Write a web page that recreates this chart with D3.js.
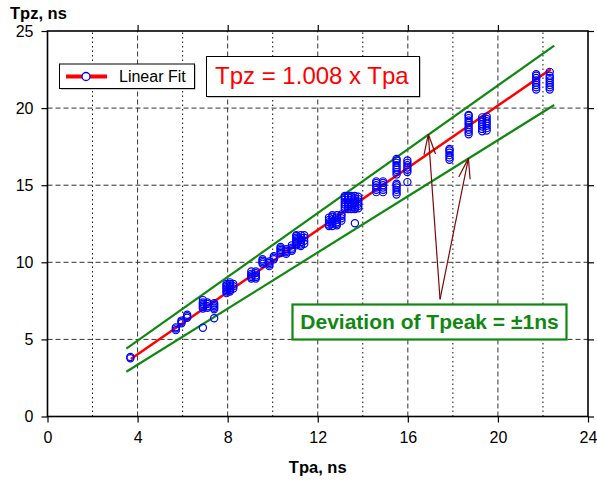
<!DOCTYPE html>
<html>
<head>
<meta charset="utf-8">
<script src="https://cdn.jsdelivr.net/npm/d3@7/dist/d3.min.js"></script>
<style>
  html, body { margin: 0; padding: 0; background: #fff; }
  svg { display: block; font-family: "Liberation Sans", Arial, sans-serif; }
</style>
</head>
<body>
<svg id="chart" width="597" height="482"></svg>
<script>
// Axis ticks
const xTicks = [0, 4, 8, 12, 16, 20, 24];
const xMinorTicks = [2, 6, 10, 14, 18, 22];
const yTicks = [0, 5, 10, 15, 20, 25];

// Measured peak times: each Tpa value with the Tpz readings taken at it (ns)
const groupTpa = [3.68, 5.7, 5.95, 6.2, 6.9, 7.1, 7.4, 7.95, 8.1, 8.25,
  9.05, 9.25, 9.55, 9.85, 10.05, 10.35, 10.6, 10.85, 11.05, 11.25, 11.4,
  12.5, 12.65, 12.85, 13.05, 13.2, 13.35, 13.5, 13.65, 13.8,
  14.6, 14.9, 15.5, 15.98, 17.85, 18.7, 19.3, 19.5, 21.7, 22.3];
const groupTpz = [
  [3.78, 3.86],
  [5.6, 5.7, 5.78],
  [6.05, 6.15, 6.22],
  [6.4, 6.5, 6.6],
  [5.76, 7.0, 7.1, 7.2, 7.3, 7.4, 7.55],
  [7.05, 7.15, 7.3, 7.4],
  [6.37, 6.95, 7.05, 7.15, 7.25, 7.35],
  [8.0, 8.1, 8.2, 8.3, 8.4, 8.5, 8.6],
  [8.1, 8.2, 8.3, 8.45, 8.6, 8.7],
  [8.3, 8.45, 8.6],
  [8.95, 9.05, 9.15, 9.25, 9.4],
  [8.95, 9.05, 9.15, 9.3, 9.4],
  [9.9, 10.0, 10.1, 10.2],
  [9.75, 9.85, 9.95, 10.05],
  [10.2, 10.3, 10.4],
  [10.6, 10.7, 10.8, 10.9, 11.0],
  [10.55, 10.65, 10.75, 10.85],
  [10.75, 10.85, 10.95, 11.1],
  [11.1, 11.2, 11.3, 11.4, 11.5, 11.6, 11.7, 11.75],
  [11.05, 11.15, 11.3, 11.45, 11.6, 11.75],
  [11.2, 11.4, 11.6, 11.75],
  [12.35, 12.45, 12.6, 12.75, 12.9],
  [12.35, 12.5, 12.65, 12.8, 12.95, 13.05],
  [12.4, 12.5, 12.6, 12.75, 12.9, 13.05],
  [12.7, 12.85, 13.0, 13.1],
  [13.45, 13.6, 13.75, 13.9, 14.05, 14.2, 14.3],
  [13.45, 13.6, 13.75, 13.9, 14.05, 14.2, 14.3],
  [13.45, 13.6, 13.75, 13.9, 14.05, 14.2, 14.3],
  [12.53, 13.45, 13.55, 13.7, 13.85, 14.0, 14.15, 14.3],
  [13.5, 13.65, 13.8, 13.95, 14.1, 14.25],
  [14.55, 14.7, 14.85, 15.0, 15.15, 15.25],
  [14.55, 14.7, 14.85, 15.0, 15.15, 15.25],
  [14.4, 14.55, 14.7, 14.85, 15.0, 15.1, 15.7, 15.85, 16.0, 16.15, 16.3, 16.45, 16.6, 16.7],
  [15.2, 15.85, 16.0, 16.15, 16.3, 16.45, 16.6],
  [16.65, 16.8, 16.95, 17.1, 17.25, 17.35],
  [18.3, 18.45, 18.6, 18.75, 18.9, 19.05, 19.2, 19.35, 19.5, 19.55],
  [18.5, 18.65, 18.8, 18.95, 19.1, 19.25, 19.4],
  [18.55, 18.7, 18.85, 19.0, 19.15, 19.3, 19.45],
  [21.2, 21.35, 21.5, 21.65, 21.8, 21.95, 22.1, 22.2],
  [21.2, 21.35, 21.5, 21.65, 21.8, 21.95, 22.1, 22.35]
];

// Linear fit Tpz = 1.008 x Tpa over the measured range
const fitSlope = 1.008;
const fitTpa = [3.7, 22.35];

// Limits of the ±1 ns deviation band
const upperBand = [[3.5, 4.4], [22.5, 24.05]];
const lowerBand = [[3.5, 2.9], [22.5, 20.2]];

// Arrows from the note to the band limits: start point, then the two tips
const arrowBase = [17.43, 7.6];
const arrowTips = [[16.91, 18.3], [18.69, 16.74]];

const svg = d3.select("#chart");
const x = d3.scaleLinear().domain([0, 24]).range([47.5, 588]);
const y = d3.scaleLinear().domain([0, 25]).range([416.5, 31]);
const [x0, x1] = x.range();
const [y0, y1] = y.range();

// Grid
const grid = svg.append("g");
grid.selectAll(".vmin").data(xMinorTicks).join("line")
  .attr("x1", d => x(d)).attr("x2", d => x(d)).attr("y1", y0).attr("y2", y1)
  .attr("stroke", "#111").attr("stroke-width", 1).attr("stroke-dasharray", "1.5,3");
grid.selectAll(".vmaj").data(xTicks.slice(1, -1)).join("line")
  .attr("x1", d => x(d)).attr("x2", d => x(d)).attr("y1", y0).attr("y2", y1)
  .attr("stroke", "#333").attr("stroke-width", 1).attr("stroke-dasharray", "5,3");
grid.selectAll(".hmaj").data(yTicks.slice(1, -1)).join("line")
  .attr("x1", x0).attr("x2", x1).attr("y1", d => y(d)).attr("y2", d => y(d))
  .attr("stroke", "#333").attr("stroke-width", 1).attr("stroke-dasharray", "5,3");

// Axes (all four sides, outward ticks)
const tickFont = g => g.selectAll("text").attr("font-size", 16).attr("fill", "#000")
  .style("font-family", "'Liberation Sans', Arial, sans-serif");
const styleAxis = g => {
  g.select(".domain").remove();
  g.selectAll(".tick line").attr("stroke", "#000").attr("stroke-width", 1.2);
};
svg.append("g").attr("transform", `translate(0,${y0})`)
  .call(d3.axisBottom(x).tickValues(xTicks).tickSize(6).tickPadding(9).tickFormat(d3.format("d")))
  .call(styleAxis).call(tickFont);
svg.append("g").attr("transform", `translate(${x0},0)`)
  .call(d3.axisLeft(y).tickValues(yTicks).tickSize(6).tickPadding(8).tickFormat(d3.format("d")))
  .call(styleAxis).call(tickFont);
svg.append("g").attr("transform", `translate(0,${y1})`)
  .call(d3.axisTop(x).tickValues(xTicks.slice(1, -1)).tickSize(6).tickFormat(""))
  .call(styleAxis);
svg.append("g").attr("transform", `translate(${x1},0)`)
  .call(d3.axisRight(y).tickValues(yTicks).tickSize(6).tickFormat(""))
  .call(styleAxis);
svg.append("rect").attr("x", x0).attr("y", y1).attr("width", x1 - x0).attr("height", y0 - y1)
  .attr("fill", "none").attr("stroke", "#000").attr("stroke-width", 1.6);

// Axis titles
svg.append("text").attr("x", 10).attr("y", 19).attr("font-size", 16.5).attr("font-weight", "bold")
  .text("Tpz, ns");
svg.append("text").attr("x", (x0 + x1) / 2).attr("y", 473).attr("text-anchor", "middle")
  .attr("font-size", 16.5).attr("font-weight", "bold").text("Tpa, ns");

// Deviation band
const line = d3.line().x(d => x(d[0])).y(d => y(d[1]));
[upperBand, lowerBand].forEach(b => svg.append("path").attr("d", line(b))
  .attr("fill", "none").attr("stroke", "#118811").attr("stroke-width", 2.2));

// Fit line
svg.append("path").attr("d", line(fitTpa.map(t => [t, fitSlope * t])))
  .attr("fill", "none").attr("stroke", "#ff0000").attr("stroke-width", 2.5);

// Measured points
const points = groupTpa.flatMap((t, i) => groupTpz[i].map(v => [t, v]));
svg.append("g").selectAll("circle").data(points).join("circle")
  .attr("cx", d => x(d[0])).attr("cy", d => y(d[1])).attr("r", 3.6)
  .attr("fill", "none").attr("stroke", "#0000ff").attr("stroke-width", 1.2);

// Arrows
const arrowColor = "#7a0a0a";
arrowTips.forEach(tip => {
  const bx = x(arrowBase[0]), by = y(arrowBase[1]);
  const tx = x(tip[0]), ty = y(tip[1]);
  const ang = Math.atan2(by - ty, bx - tx);
  const len = 21, spread = 16 * Math.PI / 180;
  svg.append("line").attr("x1", bx).attr("y1", by).attr("x2", tx).attr("y2", ty)
    .attr("stroke", arrowColor).attr("stroke-width", 1.2);
  [-spread, spread].forEach(s => svg.append("line")
    .attr("x1", tx).attr("y1", ty)
    .attr("x2", tx + len * Math.cos(ang + s)).attr("y2", ty + len * Math.sin(ang + s))
    .attr("stroke", arrowColor).attr("stroke-width", 1.2));
});

// Legend
const leg = svg.append("g");
leg.append("rect").attr("x", 60.5).attr("y", 65).attr("width", 135).attr("height", 24.5).attr("fill", "#999");
leg.append("rect").attr("x", 59.5).attr("y", 64).attr("width", 135).attr("height", 24.5)
  .attr("fill", "#fff").attr("stroke", "#000").attr("stroke-width", 1);
leg.append("line").attr("x1", 66).attr("x2", 107).attr("y1", 76.5).attr("y2", 76.5)
  .attr("stroke", "#ff0000").attr("stroke-width", 4);
leg.append("circle").attr("cx", 86).attr("cy", 76.5).attr("r", 4)
  .attr("fill", "#fff").attr("stroke", "#0000ff").attr("stroke-width", 1.3);
leg.append("text").attr("x", 119).attr("y", 82).attr("font-size", 16).text("Linear Fit");

// Fit equation
const eq = svg.append("g");
eq.append("rect").attr("x", 207.5).attr("y", 57.5).attr("width", 213).attr("height", 40).attr("fill", "#888");
eq.append("rect").attr("x", 206.5).attr("y", 56.5).attr("width", 213).attr("height", 40)
  .attr("fill", "#fff").attr("stroke", "#000").attr("stroke-width", 1);
eq.append("text").attr("x", 215).attr("y", 84).attr("font-size", 24).attr("fill", "#ff0000")
  .text("Tpz = 1.008 x Tpa");

// Deviation note
const note = svg.append("g");
note.append("rect").attr("x", 292.5).attr("y", 304.5).attr("width", 274).attr("height", 35)
  .attr("fill", "#fff").attr("stroke", "#118811").attr("stroke-width", 2.2);
note.append("text").attr("x", 429.5).attr("y", 328.5).attr("text-anchor", "middle")
  .attr("font-size", 21).attr("font-weight", "bold").attr("fill", "#118811")
  .text("Deviation of Tpeak = \u00b11ns");
</script>
</body>
</html>
